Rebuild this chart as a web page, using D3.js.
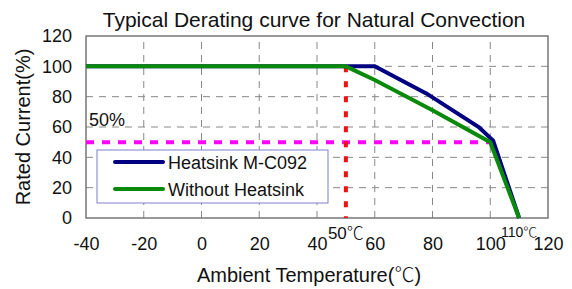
<!DOCTYPE html>
<html>
<head>
<meta charset="utf-8">
<script src="https://cdn.jsdelivr.net/npm/d3@7"></script>
<style>
  body { margin: 0; background: #fff; }
  text { font-family: Arial, "Liberation Sans", sans-serif; fill: #111; }
  .cjk { font-family: "Noto Sans CJK SC", sans-serif; font-weight: 300; }
</style>
</head>
<body>
<div id="chart"></div>
<script>
// chart data
var xTicks = [-40, -20, 0, 20, 40, 60, 80, 100, 120];
var yTicks = [0, 20, 40, 60, 80, 100, 120];
var heatsinkTemp = [-40, 60, 78, 96, 101, 110];
var heatsinkLoad = [100, 100, 82, 60, 51, 0];
var bareTemp = [-40, 50, 60, 80, 100, 110];
var bareLoad = [100, 100, 91, 71, 50, 0];
var seriesNames = ["Heatsink M-C092", "Without Heatsink"];
var halfLoad = 50, halfLoadEnd = 100;
var markTemp = 50, maxTemp = 110;

var width = 572, height = 289;
var margin = {left: 86, right: 24, top: 36, bottom: 71};

var svg = d3.select("#chart").append("svg")
    .attr("width", width)
    .attr("height", height);

var x = d3.scaleLinear().domain([-40, 120]).range([margin.left, width - margin.right]);
var y = d3.scaleLinear().domain([0, 120]).range([height - margin.bottom, margin.top]);

// grid
svg.append("g").selectAll("line.vg")
    .data(xTicks.slice(1, -1))
  .enter().append("line")
    .attr("x1", function(d){ return x(d); })
    .attr("x2", function(d){ return x(d); })
    .attr("y1", y(0)).attr("y2", y(120))
    .style("stroke", "#888").style("stroke-width", 1)
    .style("stroke-dasharray", "7,6");

svg.append("g").selectAll("line.hg")
    .data(yTicks.slice(1, -1))
  .enter().append("line")
    .attr("y1", function(d){ return y(d); })
    .attr("y2", function(d){ return y(d); })
    .attr("x1", x(-40)).attr("x2", x(120))
    .style("stroke", "#888").style("stroke-width", 1)
    .style("stroke-dasharray", "7,6");

// frame
svg.append("rect")
    .attr("x", x(-40)).attr("y", y(120))
    .attr("width", x(120) - x(-40)).attr("height", y(0) - y(120))
    .style("fill", "none").style("stroke", "#777").style("stroke-width", 1.5);

// axes labels (plain hyphen for negatives, as in the original)
var xAxis = d3.axisBottom(x).tickValues(xTicks).tickSize(0).tickPadding(19)
    .tickFormat(function(d){ return String(d); });
var gx = svg.append("g").attr("transform", "translate(0," + y(0) + ")").call(xAxis);
gx.select(".domain").remove();
gx.selectAll("text").style("font-size", "18px").attr("font-family", null);

var yAxis = d3.axisLeft(y).tickValues(yTicks).tickSize(0).tickPadding(14)
    .tickFormat(function(d){ return String(d); });
var gy = svg.append("g").attr("transform", "translate(" + x(-40) + ",0)").call(yAxis);
gy.select(".domain").remove();
gy.selectAll("text").style("font-size", "18px").attr("font-family", null);

// reference lines
svg.append("line")
    .attr("x1", x(-40)).attr("x2", x(halfLoadEnd))
    .attr("y1", y(halfLoad)).attr("y2", y(halfLoad))
    .style("stroke", "#ff00ff").style("stroke-width", 4)
    .style("stroke-dasharray", "8,8");

svg.append("line")
    .attr("x1", x(markTemp)).attr("x2", x(markTemp))
    .attr("y1", y(100)).attr("y2", y(0))
    .style("stroke", "#ee1111").style("stroke-width", 4)
    .style("stroke-dasharray", "6,9");

// curves
var line = d3.line()
    .x(function(d){ return x(d[0]); })
    .y(function(d){ return y(d[1]); });

svg.append("path")
    .datum(d3.zip(heatsinkTemp, heatsinkLoad))
    .attr("d", line)
    .style("fill", "none").style("stroke", "#000080").style("stroke-width", 4);

svg.append("path")
    .datum(d3.zip(bareTemp, bareLoad))
    .attr("d", line)
    .style("fill", "none").style("stroke", "#0a8a0a").style("stroke-width", 4);

// legend
var lg = svg.append("g");
lg.append("rect")
    .attr("x", 97).attr("y", 150).attr("width", 231).attr("height", 53)
    .style("fill", "#fff").style("stroke", "#8080c8").style("stroke-width", 1);
var legendColors = ["#000080", "#0a8a0a"];
seriesNames.forEach(function(name, i){
    var yy = 162 + i * 27;
    lg.append("line")
        .attr("x1", 115).attr("x2", 163).attr("y1", yy).attr("y2", yy)
        .style("stroke", legendColors[i]).style("stroke-width", 4)
        .style("stroke-linecap", "round");
    lg.append("text")
        .attr("x", 168).attr("y", yy + 7)
        .style("font-size", "18px")
        .text(name);
});

// text with a CJK-style degree sign
function celsius(sel, before, after){
    sel.append("tspan").text(before);
    sel.append("tspan").attr("class", "cjk").text("\u2103");
    if(after) sel.append("tspan").text(after);
    return sel;
}

// annotations
svg.append("text").attr("x", 89).attr("y", 126)
    .style("font-size", "18px").text("50%");
svg.append("text").attr("x", x(markTemp) - 18).attr("y", 239)
    .style("font-size", "17px").call(celsius, String(markTemp));
svg.append("text").attr("x", x(maxTemp)).attr("y", 237)
    .attr("text-anchor", "middle")
    .style("font-size", "14px").call(celsius, String(maxTemp));

// titles
svg.append("text").attr("x", 314).attr("y", 27)
    .attr("text-anchor", "middle").style("font-size", "21px")
    .text("Typical Derating curve for Natural Convection");
svg.append("text").attr("x", 309).attr("y", 282)
    .attr("text-anchor", "middle").style("font-size", "20px")
    .call(celsius, "Ambient Temperature(", ")");
svg.append("text")
    .attr("transform", "translate(30,127) rotate(-90)")
    .attr("text-anchor", "middle").style("font-size", "20px")
    .text("Rated Current(%)");
</script>
</body>
</html>
